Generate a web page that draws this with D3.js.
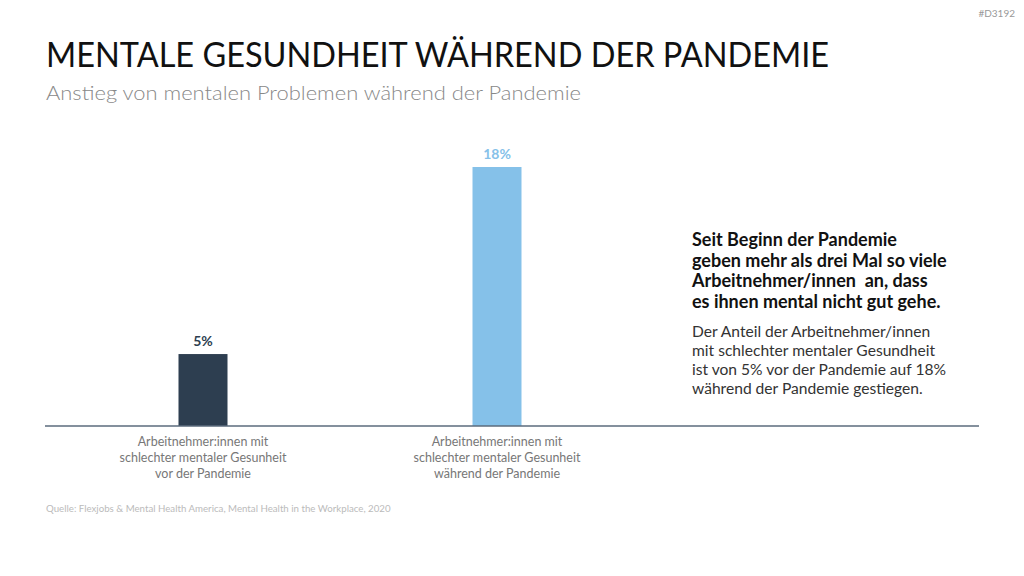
<!DOCTYPE html>
<html><head><meta charset="utf-8">
<script src="https://cdn.jsdelivr.net/npm/d3@7/dist/d3.min.js"></script>
<style>body{margin:0;background:#fff}svg{display:block}text{font-family:Lato,"Open Sans",sans-serif}</style>
</head><body><svg id="c" width="1024" height="576"></svg>
<script>
const categories = ["vor", "während"];
const categoryLabels = [
  ["Arbeitnehmer:innen mit", "schlechter mentaler Gesunheit", "vor der Pandemie"],
  ["Arbeitnehmer:innen mit", "schlechter mentaler Gesunheit", "während der Pandemie"]
];
const values = [5, 18];
const valueLabels = ["5%", "18%"];
const barColors = ["#2d3e50", "#85c1e9"];
const headline = ["Seit Beginn der Pandemie", "geben mehr als drei Mal so viele", "Arbeitnehmer/innen  an, dass", "es ihnen mental nicht gut gehe."];
const bodyText = ["Der Anteil der Arbeitnehmer/innen", "mit schlechter mentaler Gesundheit", "ist von 5% vor der Pandemie auf 18%", "während der Pandemie gestiegen."];

const svg = d3.select("#c");
const baseY = 426;
const x = d3.scaleBand().domain(categories).range([56, 644]).padding(0);
const y = d3.scaleLinear().domain([0, 18]).range([baseY, 167]);
const bw = x.bandwidth() / 6;

svg.append("text").attr("x", 1015).attr("y", 17).attr("text-anchor", "end")
  .attr("font-size", 10).attr("fill", "#999").text("#D3192");
svg.append("text").attr("x", 46).attr("y", 67).attr("font-size", 35).attr("font-weight", 400)
  .attr("fill", "#111").attr("textLength", 783).attr("lengthAdjust", "spacingAndGlyphs")
  .text("MENTALE GESUNDHEIT WÄHREND DER PANDEMIE");
svg.append("text").attr("x", 46).attr("y", 100).attr("font-size", 20).attr("font-weight", 300)
  .attr("fill", "#888").attr("textLength", 535).attr("lengthAdjust", "spacingAndGlyphs")
  .text("Anstieg von mentalen Problemen während der Pandemie");

const g = svg.append("g");
g.selectAll("rect.bar").data(values).join("rect").attr("class", "bar")
  .attr("x", (d, i) => x(categories[i]) + x.bandwidth() / 2 - bw / 2)
  .attr("width", bw)
  .attr("y", d => y(d)).attr("height", d => baseY - y(d))
  .attr("fill", (d, i) => barColors[i]);
g.selectAll("text.val").data(values).join("text").attr("class", "val")
  .attr("x", (d, i) => x(categories[i]) + x.bandwidth() / 2)
  .attr("y", d => y(d) - 8).attr("text-anchor", "middle")
  .attr("font-size", 14).attr("font-weight", 700)
  .attr("fill", (d, i) => barColors[i]).text((d, i) => valueLabels[i]);

svg.append("line").attr("x1", 45).attr("x2", 979).attr("y1", baseY).attr("y2", baseY)
  .attr("stroke", "#5b6b7c").attr("stroke-width", 1.5);

categories.forEach((c, i) => {
  const t = svg.append("text").attr("text-anchor", "middle").attr("font-size", 12.5).attr("fill", "#777");
  categoryLabels[i].forEach((line, j) => {
    t.append("tspan").attr("x", x(c) + x.bandwidth() / 2).attr("y", 446 + j * 16).text(line);
  });
});

headline.forEach((line, j) => {
  svg.append("text").attr("x", 692).attr("y", 246 + j * 20.5).attr("font-size", 18)
    .attr("font-weight", 700).attr("fill", "#111").attr("xml:space", "preserve").text(line);
});
bodyText.forEach((line, j) => {
  svg.append("text").attr("x", 692).attr("y", 337 + j * 19).attr("font-size", 15.6)
    .attr("fill", "#333").text(line);
});

svg.append("text").attr("x", 46).attr("y", 512).attr("font-size", 9.7).attr("fill", "#bbb")
  .text("Quelle: Flexjobs & Mental Health America, Mental Health in the Workplace, 2020");
</script></body></html>
